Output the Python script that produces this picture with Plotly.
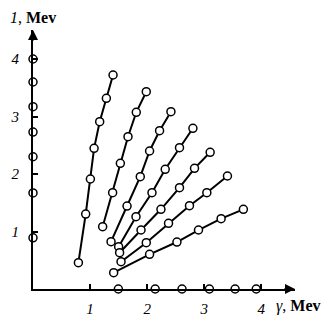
import plotly.graph_objects as go

# Seven series (gamma, I)
line1_x = [1.402, 1.285, 1.168, 1.070, 1.005, 0.923, 0.795]
line1_y = [3.722, 3.317, 2.910, 2.447, 1.913, 1.304, 0.457]
line2_x = [1.984, 1.809, 1.664, 1.530, 1.395, 1.220]
line2_y = [3.431, 3.073, 2.649, 2.186, 1.675, 1.083]
line3_x = [2.416, 2.217, 2.042, 1.879, 1.647, 1.367]
line3_y = [3.083, 2.753, 2.400, 1.953, 1.443, 0.823]
line4_x = [2.801, 2.566, 2.316, 2.084, 1.804, 1.500]
line4_y = [2.795, 2.457, 2.082, 1.675, 1.257, 0.736]
line5_x = [3.103, 2.829, 2.566, 2.241, 1.892, 1.517]
line5_y = [2.377, 2.099, 1.762, 1.386, 1.026, 0.631]
line6_x = [3.406, 3.045, 2.741, 2.374, 1.984, 1.542]
line6_y = [1.965, 1.675, 1.449, 1.143, 0.805, 0.475]
line7_x = [3.685, 3.295, 2.899, 2.521, 2.042, 1.413]
line7_y = [1.386, 1.223, 1.026, 0.817, 0.603, 0.283]

# points lying on the axes
yaxis_pts = [4.0, 3.6, 3.17, 2.73, 2.30, 1.67, 0.89]
xaxis_pts = [1.495, 2.14, 2.61, 3.09, 3.54, 3.91]

tick_vals = [1, 2, 3, 4]
tick_text = ["1", "2", "3", "4"]

W, H = 329, 320
L, B, T, R = 32.5, 31, 30, 34
px_per_x = 57.2
px_per_y = 57.5
x_max = (W - L - R) / px_per_x
y_max = (H - B - T) / px_per_y

marker = dict(symbol="circle", size=8, color="white",
              line=dict(color="black", width=1.5))

fig = go.Figure()
series = [(line1_x, line1_y), (line2_x, line2_y), (line3_x, line3_y),
          (line4_x, line4_y), (line5_x, line5_y), (line6_x, line6_y),
          (line7_x, line7_y)]
for xs, ys in series:
    fig.add_trace(go.Scatter(x=xs, y=ys, mode="lines+markers",
                             line=dict(color="black", width=2),
                             marker=marker, cliponaxis=False,
                             showlegend=False))

fig.add_trace(go.Scatter(x=[0] * len(yaxis_pts), y=yaxis_pts, mode="markers",
                         marker=marker, cliponaxis=False, showlegend=False))
fig.add_trace(go.Scatter(x=xaxis_pts, y=[0] * len(xaxis_pts), mode="markers",
                         marker=marker, cliponaxis=False, showlegend=False))

tickfont = dict(family="Liberation Serif", size=15, color="black", style="italic")

fig.update_xaxes(range=[0, x_max], showgrid=False, zeroline=False,
                 automargin=False,
                 showline=True, linecolor="black", linewidth=2,
                 ticks="inside", ticklen=5, tickwidth=1.5, tickcolor="black",
                 tickvals=tick_vals, ticktext=tick_text, tickfont=tickfont,
                 ticklabelstandoff=5)
fig.update_yaxes(range=[0, y_max], showgrid=False, zeroline=False,
                 automargin=False,
                 showline=True, linecolor="black", linewidth=2,
                 ticks="inside", ticklen=5, tickwidth=1.5, tickcolor="black",
                 tickvals=tick_vals, ticktext=tick_text, tickfont=tickfont,
                 ticklabelstandoff=9)

# arrow heads on axes
fig.add_annotation(x=x_max, y=0, ax=-12, ay=0, text="", showarrow=True,
                   arrowhead=2, arrowsize=1, arrowwidth=2, arrowcolor="black")
fig.add_annotation(x=0, y=y_max, ax=0, ay=12, text="", showarrow=True,
                   arrowhead=2, arrowsize=1, arrowwidth=2, arrowcolor="black")

# axis titles
fig.add_annotation(xref="paper", yref="paper", x=(33 - L) / (W - L - R),
                   y=(H - 17 - B) / (H - B - T), xanchor="center",
                   yanchor="middle",
                   text="<i>1</i>, <b>Mev</b>", showarrow=False,
                   font=dict(family="Liberation Serif", size=16, color="black"))
fig.add_annotation(xref="paper", yref="paper", x=(299 - L) / (W - L - R),
                   y=(H - 306 - B) / (H - B - T), xanchor="center",
                   yanchor="middle",
                   text="<i>γ</i>, <b>Mev</b>", showarrow=False,
                   font=dict(family="Liberation Serif", size=16, color="black"))

fig.update_layout(width=W, height=H, margin=dict(l=L, r=R, t=T, b=B),
                  paper_bgcolor="white", plot_bgcolor="white")

fig.write_html("out.html", config={"displayModeBar": False},
               post_script="document.body.style.margin='0px';"
                           "document.body.style.overflow='hidden';")
